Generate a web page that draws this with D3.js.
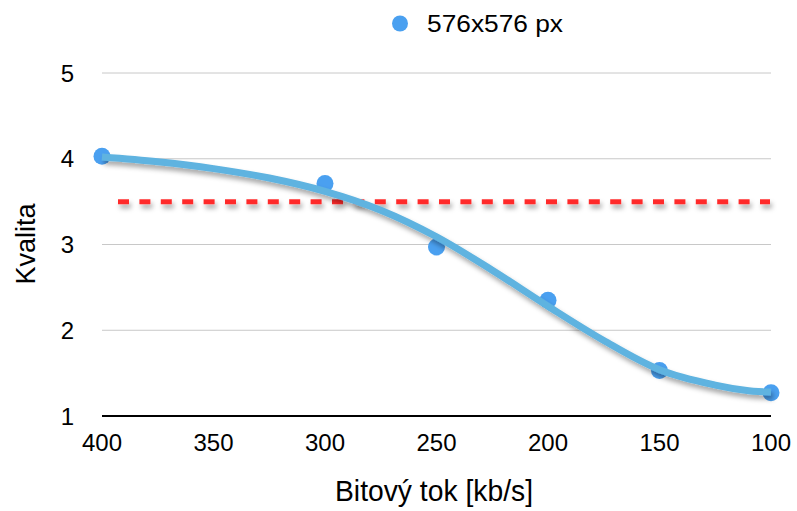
<!DOCTYPE html>
<html><head><meta charset="utf-8">
<script src="https://cdn.jsdelivr.net/npm/d3@7"></script>
<style>body{margin:0;background:#fff}svg{display:block;font-family:"Liberation Sans",Arial,Helvetica,sans-serif}</style>
</head><body><svg id="c" width="797" height="511"></svg>
<script>
const bitrates = [400, 300, 250, 200, 150, 100];
const quality = [4.03, 3.71, 2.97, 2.35, 1.53, 1.27];
// smooth trend line
const trendX = [400, 375, 350, 325, 300, 275, 250, 225, 200, 175, 150, 125, 110, 100];
const trendY = [4.02, 3.965, 3.885, 3.775, 3.62, 3.40, 3.09, 2.70, 2.28, 1.88, 1.54, 1.36, 1.295, 1.28];
const xTicks = [400, 350, 300, 250, 200, 150, 100];
const yTicks = [1, 2, 3, 4, 5];
const threshold = 3.5;
const seriesName = "576x576 px";

const svg = d3.select("#c");
const x = d3.scaleLinear().domain([400, 100]).range([102, 771]);
const y = d3.scaleLinear().domain([1, 5]).range([416, 73]);

const defs = svg.append("defs");
const f = defs.append("filter").attr("id","sh").attr("filterUnits","userSpaceOnUse")
  .attr("x",0).attr("y",0).attr("width",797).attr("height",511);
f.append("feDropShadow").attr("dx",2).attr("dy",4).attr("stdDeviation",2.5).attr("flood-color","#000").attr("flood-opacity",0.35);

// grid
svg.append("g").selectAll("line").data(yTicks.filter(d=>d>1)).join("line")
  .attr("x1",102).attr("x2",771).attr("y1",d=>y(d)).attr("y2",d=>y(d))
  .attr("stroke","#c8c8c8").attr("stroke-width",1);
// x axis line
svg.append("line").attr("x1",102).attr("x2",771).attr("y1",y(1)).attr("y2",y(1)).attr("stroke","#000").attr("stroke-width",2);

// y tick labels
svg.append("g").selectAll("text").data(yTicks).join("text")
  .attr("x",74).attr("y",d=>y(d)+8.5).attr("text-anchor","end").attr("font-size",24).attr("fill","#000").text(d=>d);
// x tick labels
svg.append("g").selectAll("text").data(xTicks).join("text")
  .attr("x",d=>x(d)).attr("y",451).attr("text-anchor","middle").attr("font-size",24).attr("fill","#000").text(d=>d);

svg.append("text").attr("x",335).attr("y",501).attr("font-size",29)
  .attr("textLength",198).attr("lengthAdjust","spacingAndGlyphs").text("Bitový tok [kb/s]");
svg.append("text").attr("transform","translate(35,244) rotate(-90)").attr("text-anchor","middle").attr("font-size",27).text("Kvalita");

// threshold line
svg.append("line").attr("x1",118).attr("x2",770).attr("y1",y(threshold)).attr("y2",y(threshold))
  .attr("stroke","#ff2b2b").attr("stroke-width",5).attr("stroke-dasharray","11,10.4").attr("filter","url(#sh)");

// points
const pts = bitrates.map((b,i)=>({b, q: quality[i]}));
svg.append("g").selectAll("circle").data(pts).join("circle")
  .attr("cx",d=>x(d.b)).attr("cy",d=>y(d.q)).attr("r",8.5).attr("fill","#4aa0f0");

// trend line
const trend = trendX.map((t,i)=>({t, v: trendY[i]}));
svg.append("path").datum(trend)
  .attr("d", d3.line().x(d=>x(d.t)).y(d=>y(d.v)).curve(d3.curveCatmullRom.alpha(0.5)))
  .attr("fill","none").attr("stroke","#5fb3e0").attr("stroke-width",7).attr("stroke-linecap","butt").attr("filter","url(#sh)");

// legend
svg.append("circle").attr("cx",400).attr("cy",23.5).attr("r",8).attr("fill","#4aa0f0");
svg.append("text").attr("x",427).attr("y",32).attr("font-size",24)
  .attr("textLength",136).attr("lengthAdjust","spacingAndGlyphs").text(seriesName);
</script></body></html>
